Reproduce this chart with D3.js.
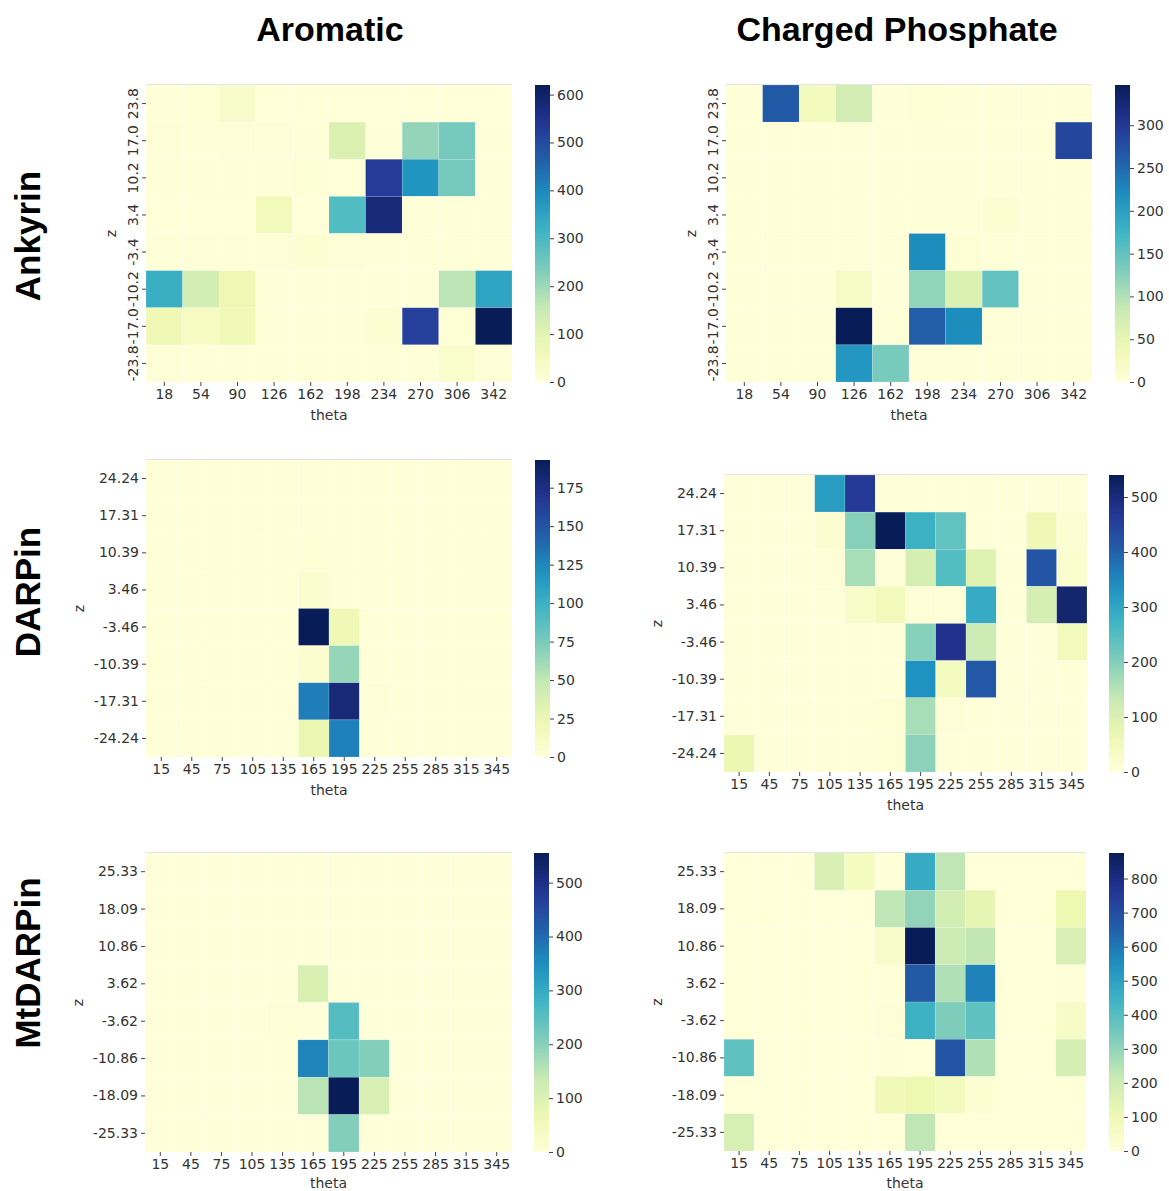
<!DOCTYPE html>
<html>
<head>
<meta charset="utf-8">
<script src="https://cdn.jsdelivr.net/npm/d3@7"></script>
<style>
  body { margin: 0; background: #fff; }
  svg .ax text, svg .lbl { font-family: "DejaVu Sans", sans-serif; }
  svg .title { font-family: "Liberation Sans", Arial, sans-serif; font-weight: bold; }
</style>
</head>
<body>
<svg id="chart" width="1169" height="1191"></svg>
<script>
// ---- data ----
var colTitles = ["Aromatic", "Charged Phosphate"]
var rowTitles = ["Ankyrin", "DARPin", "MtDARPin"]

var thetaAnk = ["18", "54", "90", "126", "162", "198", "234", "270", "306", "342"]
var thetaDar = ["15", "45", "75", "105", "135", "165", "195", "225", "255", "285", "315", "345"]

var zAnk = ["23.8", "17.0", "10.2", "3.4", "-3.4", "-10.2", "-17.0", "-23.8"]
var zDar = ["24.24", "17.31", "10.39", "3.46", "-3.46", "-10.39", "-17.31", "-24.24"]
var zMt = ["25.33", "18.09", "10.86", "3.62", "-3.62", "-10.86", "-18.09", "-25.33"]

// rows top (largest z) to bottom
var ankArom = [
  [3, 10, 30, 2, 2, 2, 2, 2, 2, 2],
  [6, 4, 8, 6, 3, 115, 3, 210, 245, 3],
  [4, 3, 3, 3, 12, 2, 530, 380, 245, 3],
  [2, 2, 2, 60, 2, 290, 575, 3, 3, 3],
  [3, 4, 3, 6, 14, 8, 3, 3, 3, 3],
  [325, 130, 75, 3, 3, 5, 5, 3, 165, 350],
  [70, 45, 65, 3, 3, 3, 15, 520, 10, 620],
  [6, 5, 5, 3, 3, 3, 3, 3, 25, 6]
]
var ankChg = [
  [2, 265, 30, 75, 3, 6, 3, 2, 2, 2],
  [3, 2, 2, 2, 2, 2, 2, 2, 2, 285],
  [2, 2, 3, 2, 2, 2, 2, 2, 2, 2],
  [2, 2, 2, 2, 2, 2, 2, 8, 2, 2],
  [2, 2, 2, 2, 2, 220, 6, 3, 2, 2],
  [2, 2, 2, 20, 2, 120, 65, 150, 2, 2],
  [2, 2, 2, 347, 3, 260, 220, 2, 2, 2],
  [2, 2, 2, 210, 135, 2, 2, 2, 2, 2]
]
var darArom = [
  [1, 1, 1, 1, 1, 1, 1, 1, 1, 1, 1, 1],
  [1, 1, 1, 1, 1, 1, 1, 1, 1, 1, 1, 1],
  [1, 1, 1, 1, 1, 3, 1, 1, 1, 1, 1, 1],
  [1, 1, 1, 1, 1, 7, 1, 1, 1, 1, 1, 1],
  [1, 1, 1, 1, 1, 193, 22, 1, 1, 1, 1, 1],
  [1, 1, 1, 1, 1, 6, 65, 1, 1, 1, 1, 1],
  [1, 1, 1, 1, 1, 130, 180, 2, 1, 1, 1, 1],
  [1, 1, 1, 1, 1, 25, 128, 1, 1, 1, 1, 1]
]
var darChg = [
  [2, 2, 2, 315, 465, 2, 2, 2, 2, 2, 2, 2],
  [2, 2, 2, 15, 195, 540, 280, 235, 3, 2, 60, 12],
  [2, 2, 2, 5, 165, 2, 110, 250, 95, 2, 420, 20],
  [2, 2, 2, 3, 28, 50, 5, 3, 290, 3, 110, 515],
  [2, 2, 2, 3, 3, 3, 195, 480, 125, 2, 2, 50],
  [2, 2, 2, 3, 3, 3, 335, 40, 415, 2, 2, 3],
  [2, 2, 2, 3, 3, 8, 165, 5, 3, 2, 2, 2],
  [70, 2, 2, 3, 3, 8, 190, 2, 2, 2, 2, 2]
]
var mtArom = [
  [2, 2, 2, 2, 2, 2, 2, 2, 2, 2, 2, 2],
  [2, 2, 2, 2, 2, 2, 2, 2, 2, 2, 2, 2],
  [2, 2, 2, 2, 2, 2, 2, 2, 2, 2, 2, 2],
  [2, 2, 2, 2, 2, 105, 2, 2, 2, 2, 2, 2],
  [2, 2, 2, 2, 5, 2, 255, 2, 2, 2, 2, 2],
  [2, 2, 2, 2, 3, 365, 230, 205, 2, 2, 2, 2],
  [2, 2, 2, 2, 2, 150, 555, 110, 2, 2, 2, 2],
  [2, 2, 2, 2, 2, 2, 205, 2, 2, 2, 2, 2]
]
var mtChg = [
  [3, 3, 3, 170, 70, 5, 470, 230, 3, 3, 3, 3],
  [3, 3, 3, 3, 3, 230, 300, 185, 130, 3, 3, 110],
  [3, 3, 3, 3, 3, 40, 875, 205, 225, 3, 3, 170],
  [3, 3, 3, 3, 3, 5, 670, 255, 580, 3, 3, 5],
  [3, 3, 3, 3, 3, 8, 450, 330, 385, 3, 3, 50],
  [385, 3, 3, 3, 3, 5, 3, 685, 255, 3, 3, 180],
  [3, 3, 3, 3, 3, 90, 110, 75, 20, 3, 3, 3],
  [175, 3, 3, 3, 3, 3, 230, 3, 3, 3, 3, 3]
]

var cbTicksAnkArom = [0, 100, 200, 300, 400, 500, 600]
var cbTicksAnkChg = [0, 50, 100, 150, 200, 250, 300]
var cbTicksDarArom = [0, 25, 50, 75, 100, 125, 150, 175]
var cbTicksDarChg = [0, 100, 200, 300, 400, 500]
var cbTicksMtArom = [0, 100, 200, 300, 400, 500]
var cbTicksMtChg = [0, 100, 200, 300, 400, 500, 600, 700, 800]

// ---- layout ----
var panels = [
  { data: ankArom, xs: thetaAnk, zs: zAnk, ticks: cbTicksAnkArom, x0: 146, x1: 512, y0: 85, y1: 382, cb: 535, rotY: true, th: 38 },
  { data: ankChg, xs: thetaAnk, zs: zAnk, ticks: cbTicksAnkChg, x0: 726, x1: 1092, y0: 85, y1: 382, cb: 1115, rotY: true, th: 38 },
  { data: darArom, xs: thetaDar, zs: zDar, ticks: cbTicksDarArom, x0: 146, x1: 512, y0: 460, y1: 757, cb: 535, th: 38 },
  { data: darChg, xs: thetaDar, zs: zDar, ticks: cbTicksDarChg, x0: 724, x1: 1087, y0: 475, y1: 772, cb: 1109, th: 38 },
  { data: mtArom, xs: thetaDar, zs: zMt, ticks: cbTicksMtArom, x0: 145, x1: 512, y0: 853, y1: 1152, cb: 534, th: 36 },
  { data: mtChg, xs: thetaDar, zs: zMt, ticks: cbTicksMtChg, x0: 724, x1: 1086, y0: 853, y1: 1151, cb: 1109, th: 37 }
]

var ylgnbu = d3.schemeYlGnBu[9]
var svg = d3.select("#chart")
var defs = svg.append("defs")
var fs = 14

panels.forEach(function(p, pi)
{
  var vmin = 0
  var vmax = d3.max(p.data, function(r) { return d3.max(r) })
  var color = d3.scaleLinear()
    .domain(d3.range(9).map(function(i) { return vmin + (vmax - vmin) * i / 8 }))
    .range(ylgnbu)
    .interpolate(d3.interpolateRgb)

  var x = d3.scaleBand().domain(p.xs).range([p.x0, p.x1])
  var y = d3.scaleBand().domain(p.zs).range([p.y0, p.y1])

  var g = svg.append("g")

  var cells = []
  p.data.forEach(function(row, ri) {
    row.forEach(function(v, ci) { cells.push({ x: p.xs[ci], z: p.zs[ri], v: v }) })
  })

  g.selectAll("rect.cell").data(cells).enter()
    .append("rect")
    .attr("class", "cell")
    .attr("x", function(d) { return x(d.x) })
    .attr("y", function(d) { return y(d.z) })
    .attr("width", x.bandwidth())
    .attr("height", y.bandwidth())
    .attr("fill", function(d) { return color(d.v) })
    .attr("stroke", "rgba(255,255,255,0.3)")
    .attr("stroke-width", 0.5)

  // faint top border
  g.append("line")
    .attr("x1", p.x0).attr("x2", p.x1)
    .attr("y1", p.y0 - 0.5).attr("y2", p.y0 - 0.5)
    .attr("stroke", "#e4e4e4")

  // x axis
  var xa = g.append("g").attr("class", "ax")
    .attr("transform", "translate(0," + p.y1 + ")")
    .call(d3.axisBottom(x).tickSize(4).tickPadding(3))
  xa.select(".domain").remove()
  xa.selectAll("line").attr("stroke", "#444")
  xa.selectAll("text").attr("font-size", fs).attr("fill", "#333")

  g.append("text").attr("class", "lbl")
    .attr("x", (p.x0 + p.x1) / 2)
    .attr("y", p.y1 + p.th)
    .attr("text-anchor", "middle")
    .attr("font-size", fs)
    .attr("fill", "#333")
    .text("theta")

  // y axis
  var ya = g.append("g").attr("class", "ax")
    .attr("transform", "translate(" + p.x0 + ",0)")
    .call(d3.axisLeft(y).tickSize(4).tickPadding(3))
  ya.select(".domain").remove()
  ya.selectAll("line").attr("stroke", "#444")
  ya.selectAll("text").attr("font-size", fs).attr("fill", "#333")
  if (p.rotY) {
    ya.selectAll("text")
      .attr("text-anchor", "middle")
      .attr("transform", "translate(-13,0) rotate(-90)")
      .attr("x", 0).attr("dy", "0.35em")
  }

  g.append("text").attr("class", "lbl")
    .attr("transform", "translate(" + (p.rotY ? p.x0 - 30 : p.x0 - 62) + "," + ((p.y0 + p.y1) / 2) + ") rotate(-90)")
    .attr("text-anchor", "middle")
    .attr("font-size", fs)
    .attr("fill", "#333")
    .text("z")

  // colorbar
  var gid = "grad" + pi
  var grad = defs.append("linearGradient")
    .attr("id", gid)
    .attr("x1", 0).attr("y1", 1).attr("x2", 0).attr("y2", 0)
  d3.range(0, 1.0001, 0.05).forEach(function(t) {
    grad.append("stop")
      .attr("offset", t)
      .attr("stop-color", color(vmin + t * (vmax - vmin)))
  })
  var cbw = 15
  g.append("rect")
    .attr("x", p.cb).attr("y", p.y0)
    .attr("width", cbw).attr("height", p.y1 - p.y0)
    .attr("fill", "url(#" + gid + ")")

  var cy = d3.scaleLinear().domain([vmin, vmax]).range([p.y1, p.y0])
  var ca = g.append("g").attr("class", "ax")
    .attr("transform", "translate(" + (p.cb + cbw) + ",0)")
    .call(d3.axisRight(cy).tickValues(p.ticks).tickSize(4).tickPadding(3).tickFormat(d3.format("d")))
  ca.select(".domain").remove()
  ca.selectAll("line").attr("stroke", "#444")
  ca.selectAll("text").attr("font-size", fs).attr("fill", "#333")
})

// titles
var colCenters = [330, 897]
colTitles.forEach(function(t, i) {
  svg.append("text").attr("class", "title")
    .attr("x", colCenters[i]).attr("y", 41)
    .attr("text-anchor", "middle")
    .attr("font-size", 34)
    .attr("fill", "#000")
    .text(t)
})

var rowCenters = [236, 592, 963]
rowTitles.forEach(function(t, i) {
  svg.append("text").attr("class", "title")
    .attr("transform", "translate(40," + rowCenters[i] + ") rotate(-90)")
    .attr("text-anchor", "middle")
    .attr("font-size", 35)
    .attr("fill", "#000")
    .text(t)
})
</script>
</body>
</html>
